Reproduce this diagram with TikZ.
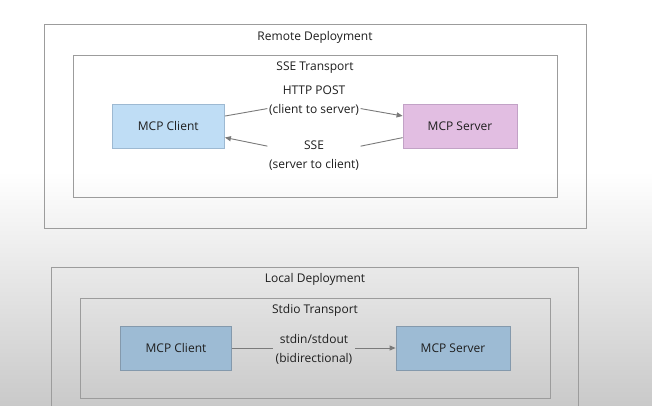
\documentclass[tikz,border=0pt]{standalone}
\usepackage{fontspec}
\setmainfont{Open Sans}
\usetikzlibrary{arrows.meta}
\definecolor{txt}{HTML}{1E1E1E}
\definecolor{frame}{HTML}{9C9C9C}
\definecolor{conn}{HTML}{7A7A7A}
\definecolor{clientfill}{HTML}{BFDDF5}
\definecolor{clientdraw}{HTML}{9DB9D2}
\definecolor{serverfill}{HTML}{E2BEE2}
\definecolor{serverdraw}{HTML}{C2A2C6}
\definecolor{localfill}{HTML}{9DBBD4}
\definecolor{localdraw}{HTML}{8499AC}
\begin{document}
\begin{tikzpicture}[x=1pt,y=-1pt,
  font=\fontsize{12}{19}\selectfont, text=txt,
  groupbox/.style={draw=frame, line width=0.9pt},
  title/.style={inner sep=0pt, anchor=base},
  comp/.style={minimum height=44pt, inner sep=0pt, line width=0.8pt},
  lbl/.style={align=center, inner sep=1.5pt, anchor=base},
  conline/.style={draw=conn, line width=0.9pt},
  tip/.style={-{Triangle[length=6pt,width=5pt]}}
]
\useasboundingbox (0,0) rectangle (652,405);
\fill[white] (0,0) rectangle (652,172);
\shade[top color=white, bottom color=black!21] (0,171.5) rectangle (652,405);
\clip (0,0) rectangle (652,405);

% Remote deployment
\draw[groupbox] (44,24) rectangle (586,228);
\node[title] (remote) at (315,40) {Remote Deployment};
\draw[groupbox] (73,55) rectangle (557,197);
\node[title] (sse) at (315,70) {SSE Transport};
\node[comp, minimum width=112.5pt, fill=clientfill, draw=clientdraw] (rc) at (168.25,126) {MCP Client};
\node[comp, minimum width=114pt, fill=serverfill, draw=serverdraw] (rs) at (460,126) {MCP Server};
\node[lbl] (post) at (314,113.3) {HTTP POST\\(client to server)};
\node[lbl] (ssel) at (314,168.5) {SSE\\(server to client)};
\draw[conline] (rc) -- (post);
\draw[conline, tip] (post) -- (rs);
\draw[conline] (rs) -- (ssel);
\draw[conline, tip] (ssel) -- (rc);

% Local deployment
\draw[groupbox] (51,267) rectangle (578,412);
\node[title] (local) at (315,282.3) {Local Deployment};
\draw[groupbox] (80,298) rectangle (550,398);
\node[title] (stdio) at (315,313) {Stdio Transport};
\node[comp, minimum width=111pt, fill=localfill, draw=localdraw] (lc) at (176,348) {MCP Client};
\node[comp, minimum width=114pt, fill=localfill, draw=localdraw] (ls) at (453,348) {MCP Server};
\node[lbl, inner xsep=3pt] (stdl) at (314,362.7) {stdin/stdout\\(bidirectional)};
\draw[conline] (lc) -- (lc -| stdl.west);
\draw[conline, tip] (lc -| stdl.east) -- (ls);
\end{tikzpicture}
\end{document}
